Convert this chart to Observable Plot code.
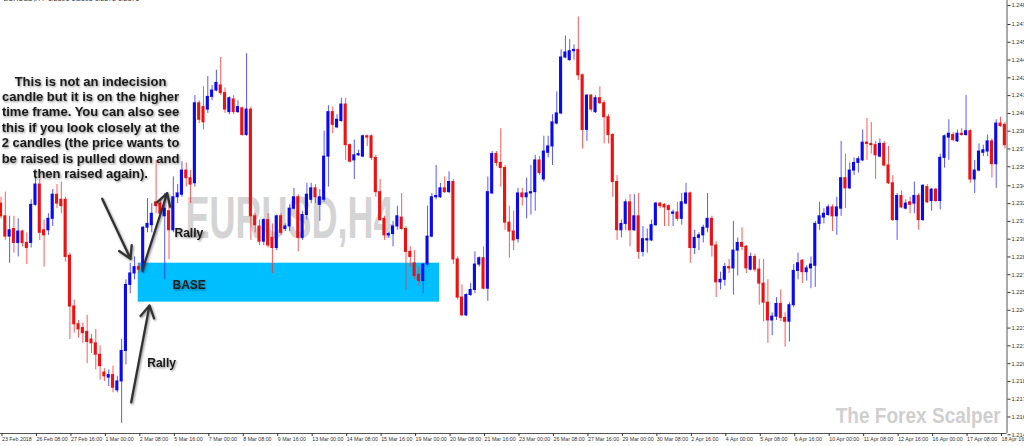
<!DOCTYPE html>
<html><head><meta charset="utf-8">
<script src="https://cdn.jsdelivr.net/npm/d3@7"></script>
<script src="https://cdn.jsdelivr.net/npm/@observablehq/plot@0.6"></script>
<style>html,body{margin:0;padding:0;background:#fff;} #chart{width:1024px;height:446px;overflow:hidden;}</style>
</head><body><div id="chart"></div>
<script>
const open = [
1.2329,1.2319,1.2303,1.2309,1.2298,1.2307,1.2298,1.2298,1.2328,1.2344,
1.2308,1.2308,1.2317,1.2336,1.2332,1.2332,1.2288,1.2248,1.2234,1.2231,
1.2228,1.2222,1.2219,1.2210,1.2196,1.2192,1.2194,1.2182,1.2189,1.2213,
1.2265,1.2274,1.2279,1.2277,1.2310,1.2312,1.2330,1.2329,1.2319,1.2323,
1.2308,1.2334,1.2336,1.2355,1.2349,1.2345,1.2408,1.2405,1.2403,1.2413,
1.2418,1.2422,1.2416,1.2401,1.2411,1.2401,1.2404,1.2383,1.2403,1.2319,
1.2311,1.2299,1.2316,1.2302,1.2294,1.2319,1.2309,1.2311,1.2325,1.2334,
1.2302,1.2320,1.2332,1.2341,1.2328,1.2332,1.2366,1.2401,1.2389,1.2394,
1.2407,1.2375,1.2363,1.2367,1.2366,1.2382,1.2382,1.2365,1.2338,1.2317,
1.2304,1.2305,1.2311,1.2318,1.2309,1.2291,1.2282,1.2273,1.2268,1.2281,
1.2303,1.2334,1.2334,1.2341,1.2338,1.2346,1.2285,1.2255,1.2241,1.2257,
1.2261,1.2281,1.2286,1.2262,1.2337,1.2368,1.2361,1.2357,1.2314,1.2307,
1.2301,1.2337,1.2334,1.2337,1.2338,1.2363,1.2348,1.2369,1.2374,1.2392,
1.2400,1.2444,1.2442,1.2449,1.2450,1.2430,1.2387,1.2414,1.2401,1.2412,
1.2408,1.2397,1.2383,1.2346,1.2308,1.2313,1.2330,1.2308,1.2319,1.2291,
1.2300,1.2300,1.2312,1.2329,1.2328,1.2327,1.2321,1.2322,1.2317,1.2329,
1.2337,1.2294,1.2302,1.2304,1.2310,1.2317,1.2296,1.2267,1.2269,1.2279,
1.2278,1.2292,1.2298,1.2295,1.2277,1.2287,1.2277,1.2266,1.2251,1.2237,
1.2240,1.2250,1.2239,1.2236,1.2249,1.2276,1.2284,1.2275,1.2278,1.2280,
1.2313,1.2318,1.2320,1.2326,1.2319,1.2325,1.2349,1.2341,1.2355,1.2361,
1.2363,1.2377,1.2376,1.2375,1.2366,1.2376,1.2359,1.2345,1.2316,1.2335,
1.2325,1.2330,1.2329,1.2335,1.2316,1.2342,1.2331,1.2340,1.2331,1.2365,
1.2381,1.2383,1.2378,1.2384,1.2383,1.2386,1.2348,1.2355,1.2369,1.2370,
1.2378,1.2360,1.2392,1.2391];
const high = [
1.2334,1.2338,1.2319,1.2319,1.2317,1.2308,1.2306,1.2332,1.2350,1.2348,
1.2316,1.2321,1.2340,1.2344,1.2346,1.2334,1.2290,1.2253,1.2237,1.2235,
1.2241,1.2226,1.2230,1.2217,1.2199,1.2198,1.2201,1.2193,1.2222,1.2269,
1.2282,1.2287,1.2282,1.2311,1.2333,1.2329,1.2363,1.2332,1.2337,1.2332,
1.2350,1.2344,1.2362,1.2361,1.2355,1.2414,1.2410,1.2421,1.2429,1.2422,
1.2434,1.2444,1.2420,1.2413,1.2414,1.2410,1.2405,1.2447,1.2405,1.2321,
1.2316,1.2317,1.2321,1.2313,1.2320,1.2321,1.2313,1.2328,1.2341,1.2336,
1.2323,1.2345,1.2345,1.2344,1.2340,1.2386,1.2406,1.2405,1.2399,1.2412,
1.2412,1.2376,1.2379,1.2371,1.2383,1.2383,1.2383,1.2367,1.2348,1.2319,
1.2306,1.2315,1.2327,1.2337,1.2311,1.2295,1.2292,1.2279,1.2282,1.2327,
1.2337,1.2359,1.2345,1.2350,1.2354,1.2348,1.2287,1.2265,1.2258,1.2266,
1.2291,1.2287,1.2295,1.2350,1.2370,1.2370,1.2388,1.2359,1.2327,1.2323,
1.2341,1.2341,1.2349,1.2359,1.2367,1.2366,1.2382,1.2382,1.2399,1.2417,
1.2450,1.2461,1.2458,1.2454,1.2476,1.2431,1.2415,1.2415,1.2414,1.2421,
1.2410,1.2399,1.2384,1.2351,1.2316,1.2332,1.2336,1.2336,1.2337,1.2311,
1.2309,1.2316,1.2330,1.2330,1.2329,1.2328,1.2324,1.2330,1.2337,1.2345,
1.2338,1.2308,1.2306,1.2312,1.2337,1.2319,1.2299,1.2275,1.2282,1.2285,
1.2315,1.2302,1.2310,1.2296,1.2290,1.2289,1.2285,1.2285,1.2269,1.2243,
1.2255,1.2261,1.2243,1.2251,1.2281,1.2290,1.2285,1.2280,1.2287,1.2315,
1.2330,1.2325,1.2328,1.2328,1.2334,1.2378,1.2368,1.2361,1.2365,1.2366,
1.2387,1.2396,1.2393,1.2378,1.2380,1.2378,1.2374,1.2351,1.2337,1.2339,
1.2332,1.2334,1.2346,1.2337,1.2344,1.2344,1.2341,1.2341,1.2368,1.2383,
1.2395,1.2385,1.2387,1.2388,1.2414,1.2387,1.2363,1.2376,1.2375,1.2383,
1.2380,1.2395,1.2397,1.2393];
const low = [
1.2317,1.2300,1.2282,1.2290,1.2287,1.2295,1.2281,1.2294,1.2327,1.2300,
1.2279,1.2304,1.2311,1.2325,1.2321,1.2283,1.2222,1.2227,1.2223,1.2219,
1.2203,1.2211,1.2198,1.2190,1.2189,1.2185,1.2180,1.2180,1.2156,1.2202,
1.2258,1.2269,1.2274,1.2274,1.2306,1.2306,1.2321,1.2319,1.2269,1.2285,
1.2306,1.2329,1.2334,1.2342,1.2329,1.2342,1.2392,1.2387,1.2400,1.2410,
1.2417,1.2414,1.2400,1.2399,1.2399,1.2400,1.2382,1.2382,1.2300,1.2306,
1.2296,1.2296,1.2294,1.2274,1.2292,1.2304,1.2307,1.2307,1.2324,1.2291,
1.2300,1.2316,1.2329,1.2329,1.2315,1.2330,1.2342,1.2384,1.2388,1.2393,
1.2363,1.2361,1.2348,1.2366,1.2365,1.2374,1.2363,1.2334,1.2315,1.2300,
1.2302,1.2295,1.2308,1.2308,1.2261,1.2279,1.2269,1.2264,1.2258,1.2279,
1.2302,1.2332,1.2333,1.2337,1.2337,1.2281,1.2253,1.2240,1.2240,1.2256,
1.2258,1.2279,1.2261,1.2252,1.2336,1.2358,1.2342,1.2308,1.2286,1.2292,
1.2298,1.2327,1.2317,1.2320,1.2323,1.2351,1.2346,1.2365,1.2359,1.2391,
1.2399,1.2443,1.2441,1.2442,1.2426,1.2372,1.2378,1.2401,1.2400,1.2407,
1.2376,1.2376,1.2334,1.2300,1.2302,1.2308,1.2295,1.2307,1.2285,1.2287,
1.2290,1.2299,1.2311,1.2325,1.2311,1.2311,1.2311,1.2315,1.2312,1.2328,
1.2282,1.2289,1.2292,1.2298,1.2306,1.2287,1.2255,1.2261,1.2264,1.2274,
1.2257,1.2272,1.2292,1.2274,1.2276,1.2275,1.2249,1.2236,1.2219,1.2225,
1.2237,1.2236,1.2216,1.2220,1.2247,1.2269,1.2266,1.2268,1.2262,1.2263,
1.2308,1.2313,1.2319,1.2307,1.2304,1.2319,1.2325,1.2340,1.2351,1.2353,
1.2362,1.2363,1.2368,1.2348,1.2365,1.2358,1.2344,1.2315,1.2300,1.2325,
1.2324,1.2321,1.2321,1.2308,1.2315,1.2329,1.2323,1.2330,1.2324,1.2357,
1.2363,1.2378,1.2377,1.2382,1.2382,1.2345,1.2337,1.2354,1.2366,1.2366,
1.2349,1.2341,1.2389,1.2372];
const close = [
1.2319,1.2303,1.2308,1.2298,1.2307,1.2298,1.2294,1.2328,1.2344,1.2306,
1.2304,1.2317,1.2336,1.2329,1.2327,1.2287,1.2248,1.2234,1.2230,1.2227,
1.2220,1.2219,1.2210,1.2201,1.2193,1.2194,1.2184,1.2189,1.2213,1.2265,
1.2274,1.2279,1.2277,1.2310,1.2313,1.2321,1.2327,1.2321,1.2325,1.2308,
1.2334,1.2337,1.2355,1.2349,1.2344,1.2408,1.2395,1.2393,1.2413,1.2418,
1.2424,1.2416,1.2403,1.2412,1.2401,1.2405,1.2383,1.2403,1.2319,1.2312,
1.2299,1.2316,1.2296,1.2294,1.2319,1.2306,1.2311,1.2325,1.2334,1.2302,
1.2320,1.2336,1.2341,1.2334,1.2334,1.2366,1.2401,1.2391,1.2395,1.2407,
1.2375,1.2362,1.2367,1.2368,1.2382,1.2381,1.2365,1.2338,1.2316,1.2304,
1.2305,1.2311,1.2319,1.2309,1.2291,1.2287,1.2272,1.2268,1.2281,1.2303,
1.2334,1.2335,1.2341,1.2338,1.2346,1.2285,1.2255,1.2241,1.2257,1.2261,
1.2281,1.2286,1.2262,1.2338,1.2368,1.2361,1.2357,1.2314,1.2307,1.2300,
1.2337,1.2334,1.2337,1.2338,1.2363,1.2353,1.2370,1.2374,1.2393,1.2400,
1.2444,1.2448,1.2449,1.2450,1.2430,1.2387,1.2414,1.2403,1.2412,1.2408,
1.2397,1.2383,1.2346,1.2308,1.2313,1.2330,1.2308,1.2319,1.2291,1.2301,
1.2301,1.2312,1.2329,1.2327,1.2326,1.2324,1.2322,1.2317,1.2330,1.2337,
1.2294,1.2302,1.2304,1.2310,1.2317,1.2296,1.2267,1.2269,1.2279,1.2278,
1.2292,1.2298,1.2295,1.2278,1.2287,1.2277,1.2266,1.2251,1.2237,1.2240,
1.2250,1.2239,1.2236,1.2249,1.2276,1.2282,1.2275,1.2278,1.2281,1.2313,
1.2319,1.2321,1.2326,1.2319,1.2326,1.2349,1.2341,1.2355,1.2361,1.2364,
1.2377,1.2376,1.2375,1.2367,1.2376,1.2359,1.2345,1.2316,1.2335,1.2326,
1.2329,1.2328,1.2335,1.2316,1.2343,1.2330,1.2340,1.2331,1.2365,1.2382,
1.2384,1.2379,1.2384,1.2383,1.2386,1.2348,1.2355,1.2370,1.2371,1.2378,
1.2360,1.2392,1.2390,1.2375];

const timeLabels = ["23 Feb 2018","26 Feb 08:00","27 Feb 16:00","1 Mar 00:00","2 Mar 08:00","5 Mar 16:00",
"7 Mar 00:00","8 Mar 08:00","9 Mar 16:00","13 Mar 00:00","14 Mar 08:00","15 Mar 16:00","19 Mar 00:00",
"20 Mar 08:00","21 Mar 16:00","23 Mar 00:00","26 Mar 08:00","27 Mar 16:00","29 Mar 00:00","30 Mar 08:00",
"2 Apr 16:00","4 Apr 00:00","5 Apr 08:00","6 Apr 16:00","10 Apr 00:00","11 Apr 08:00","12 Apr 16:00",
"16 Apr 00:00","17 Apr 08:00","18 Apr 16:00"];
const barsPerLabel = 8;
const priceTicks = [1.2147,1.2161,1.2175,1.2189,1.2203,1.2217,1.2231,1.2245,1.2259,1.2273,1.2287,1.2301,
1.2315,1.2329,1.2343,1.2358,1.2372,1.2386,1.2400,1.2414,1.2428,1.2442,1.2456,1.2470,1.2485];

const baseZone = [{x1: 31.85, x2: 101.79, y1: 1.22514, y2: 1.22821}];
const arrows = [
  {x1: 23.49, y1: 1.23328, x2: 30.06, y2: 1.22855},
  {x1: 32.78, y1: 1.22763, x2: 38.58, y2: 1.23372},
  {x1: 30.22, y1: 1.21726, x2: 34.47, y2: 1.22488}
];
const paragraph = [{x: 20.78, y: 1.23893, text: "This is not an indecision\ncandle but it is on the higher\ntime frame. You can also see\nthis if you look closely at the\n2 candles (the price wants to\nbe raised is pulled down and\nthen raised again)."}];
const labels = [
  {x: 40.27, y: 1.23055, text: "Rally"},
  {x: 39.81, y: 1.22649, text: "BASE"},
  {x: 33.94, y: 1.22035, text: "Rally"}
];
const watermarks = [
  {x: 66.97, y: 1.23164, text: "EURUSD,H4", size: 59, len: 208},
  {x: 212.9, y: 1.21622, text: "The Forex Scalper", size: 22, len: 165}
];
const header = [{x: 0.6, y: 1.24889, text: "EURUSD,H4  1.2391 1.2393 1.2372 1.2375"}];

const candles = open.map((o, i) => ({i, o, h: high[i], l: low[i], c: close[i]}));
const up = candles.filter(d => d.c >= d.o);
const down = candles.filter(d => d.c < d.o);
const tickIdx = timeLabels.map((_, k) => k * barsPerLabel);
const half = 0.36;

const chart = Plot.plot({
  width: 1024, height: 446,
  marginLeft: 0, marginRight: 17.5, marginTop: 0, marginBottom: 13,
  x: {domain: [-0.116, 233.5]},
  y: {domain: [1.2148, 1.24889]},
  style: {fontFamily: "Liberation Sans, Arial, sans-serif", background: "#fff", overflow: "hidden"},
  marks: [
    Plot.text(watermarks.slice(0,1), {x: "x", y: "y", text: "text", fontSize: 59, fontWeight: "bold", fill: "#d4d4d4", textAnchor: "middle", lineAnchor: "middle"}),
    Plot.text(watermarks.slice(1), {x: "x", y: "y", text: "text", fontSize: 22, fontWeight: "bold", fill: "#cfcfcf", textAnchor: "middle", lineAnchor: "middle"}),
    Plot.rect(baseZone, {x1: "x1", x2: "x2", y1: "y1", y2: "y2", fill: "#00bfff"}),
    Plot.ruleX(up, {x: "i", y1: "l", y2: "h", stroke: "#3030ff", strokeOpacity: 0.8, strokeWidth: 1}),
    Plot.ruleX(down, {x: "i", y1: "l", y2: "h", stroke: "#ff3030", strokeOpacity: 0.8, strokeWidth: 1}),
    Plot.rect(up, {x1: d => d.i - half, x2: d => d.i + half, y1: "o", y2: "c", fill: "#0a0aee", insetTop: -0.5, insetBottom: -0.5}),
    Plot.rect(down, {x1: d => d.i - half, x2: d => d.i + half, y1: "o", y2: "c", fill: "#ee1111", insetTop: -0.5, insetBottom: -0.5}),
    Plot.ruleY([1.2148], {stroke: "#555", strokeWidth: 1}),
    Plot.ruleX([233.5], {stroke: "#555", strokeWidth: 1}),
    Plot.axisY(priceTicks, {anchor: "right", tickSize: 3, tickPadding: 1.5, fontSize: 5.8, tickFormat: d => d.toFixed(4), color: "#333"}),
    Plot.axisX(tickIdx, {anchor: "bottom", tickSize: 3, tickPadding: 1, fontSize: 5.3, textAnchor: "start", dx: 1, tickFormat: i => timeLabels[i / barsPerLabel], color: "#333"}),
    Plot.text(header, {x: "x", y: "y", text: "text", fontSize: 7, dy: -1.5, textAnchor: "start", lineAnchor: "middle", fill: "#333"}),
    Plot.arrow(arrows, {x1: "x1", y1: "y1", x2: "x2", y2: "y2", stroke: "#333", strokeWidth: 2.3, headLength: 9, ariaDescription: "note"}),
    Plot.text(paragraph, {x: "x", y: "y", text: "text", fontSize: 13, fontWeight: "bold", lineHeight: 1.19, textAnchor: "middle", lineAnchor: "middle", fill: "#1a1a1a", ariaDescription: "note"}),
    Plot.text(labels, {x: "x", y: "y", text: "text", fontSize: 12, fontWeight: "bold", textAnchor: "start", lineAnchor: "middle", fill: "#1a1a1a", ariaDescription: "note"})
  ]
});
document.getElementById("chart").appendChild(chart);

const svg = d3.select(chart);
svg.insert("defs", ":first-child").html('<filter id="sh" x="-20%" y="-20%" width="140%" height="140%"><feDropShadow dx="1" dy="1.2" stdDeviation="1" flood-color="#000" flood-opacity="0.45"/></filter>');
svg.selectAll('g[aria-description="note"]').attr("filter", "url(#sh)");
svg.selectAll("text").each(function() {
  const wm = watermarks.find(w => w.text === this.textContent);
  if (wm) d3.select(this).attr("textLength", wm.len).attr("lengthAdjust", "spacingAndGlyphs");
});
</script>
</body></html>
